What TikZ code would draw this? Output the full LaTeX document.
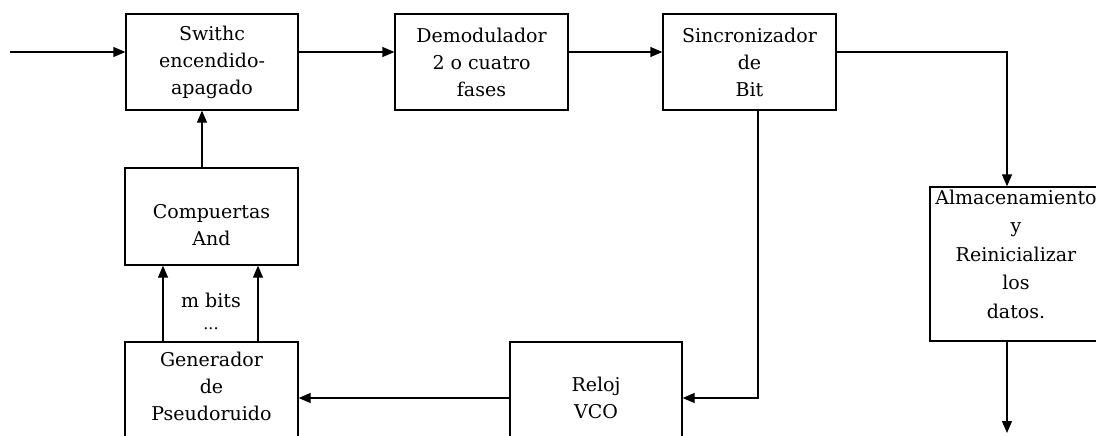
\documentclass[tikz,border=0pt]{standalone}
\usepackage{fontspec}
\setmainfont{DejaVu Serif}
\usetikzlibrary{arrows.meta}
\begin{document}
\begin{tikzpicture}[x=1pt,y=-1pt,
  blk/.style={draw=black,line width=1.3pt,rectangle,inner sep=0pt,align=center,
     font=\fontsize{19}{27}\selectfont},
  txt/.style={inner sep=0pt,align=center,font=\fontsize{19}{27}\selectfont},
  conn/.style={line width=1.3pt,-{Triangle[length=12pt,width=10pt]}}]
\useasboundingbox (0,0) rectangle (1096,436);
\clip (0,0) rectangle (1096,436);
\fill[white] (0,0) rectangle (1096,436);
% blocks
\node[blk,minimum width=172pt,minimum height=96pt] (sw) at (212,62) {Swithc\\encendido-\\apagado};
\node[blk,minimum width=173pt,minimum height=96pt] (dem) at (481.5,62) {Demodulador\\2 o cuatro\\fases};
\node[blk,minimum width=173pt,minimum height=96pt] (sinc) at (749.5,62) {Sincronizador\\de\\Bit};
\node[blk,minimum width=173pt,minimum height=97pt] (comp) at (211.5,216.5) {};
\node[txt] (comptxt) at (211.5,225) {Compuertas\\And};
\node[blk,minimum width=173pt,minimum height=130pt] (gen) at (211.5,407) {};
\node[txt] (gentxt) at (211.5,386) {Generador\\de\\Pseudoruido};
\node[blk,minimum width=172pt,minimum height=112pt] (vco) at (596,398) {};
\node[txt] (vcotxt) at (596,398) {Reloj\\VCO};
\node[blk,minimum width=176pt,minimum height=154pt] (alm) at (1018,264) {};
\node[txt,font=\fontsize{19}{28.5}\selectfont] (almtxt) at (1016,254) {Almacenamiento\\y\\Reinicializar\\los\\datos.};
\node[txt] (mbits) at (211,300) {m bits};
\node[txt,font=\fontsize{16}{16}\selectfont] (dots) at (211,329) {...};
% coordinates
\coordinate (in) at (10,52);
\coordinate (ax) at (1007,0);
\coordinate (out) at (1007,433);
\coordinate (sx) at (758,0);
\coordinate (cx) at (202,0);
\coordinate (g1) at (163,0);
\coordinate (g2) at (258,0);
% connectors
\draw[conn] (in) -- (in -| sw.west);
\draw[conn] (sw.east |- in) -- (dem.west |- in);
\draw[conn] (dem.east |- in) -- (sinc.west |- in);
\draw[conn] (sinc.east |- in) -| (ax |- alm.north);
\draw[conn] (ax |- alm.south) -- (out);
\draw[conn] (sx |- sinc.south) |- (vco.east);
\draw[conn] (vco.west) -- (vco.west -| gen.east);
\draw[conn] (cx |- comp.north) -- (cx |- sw.south);
\draw[conn] (g1 |- gen.north) -- (g1 |- comp.south);
\draw[conn] (g2 |- gen.north) -- (g2 |- comp.south);
\end{tikzpicture}
\end{document}
